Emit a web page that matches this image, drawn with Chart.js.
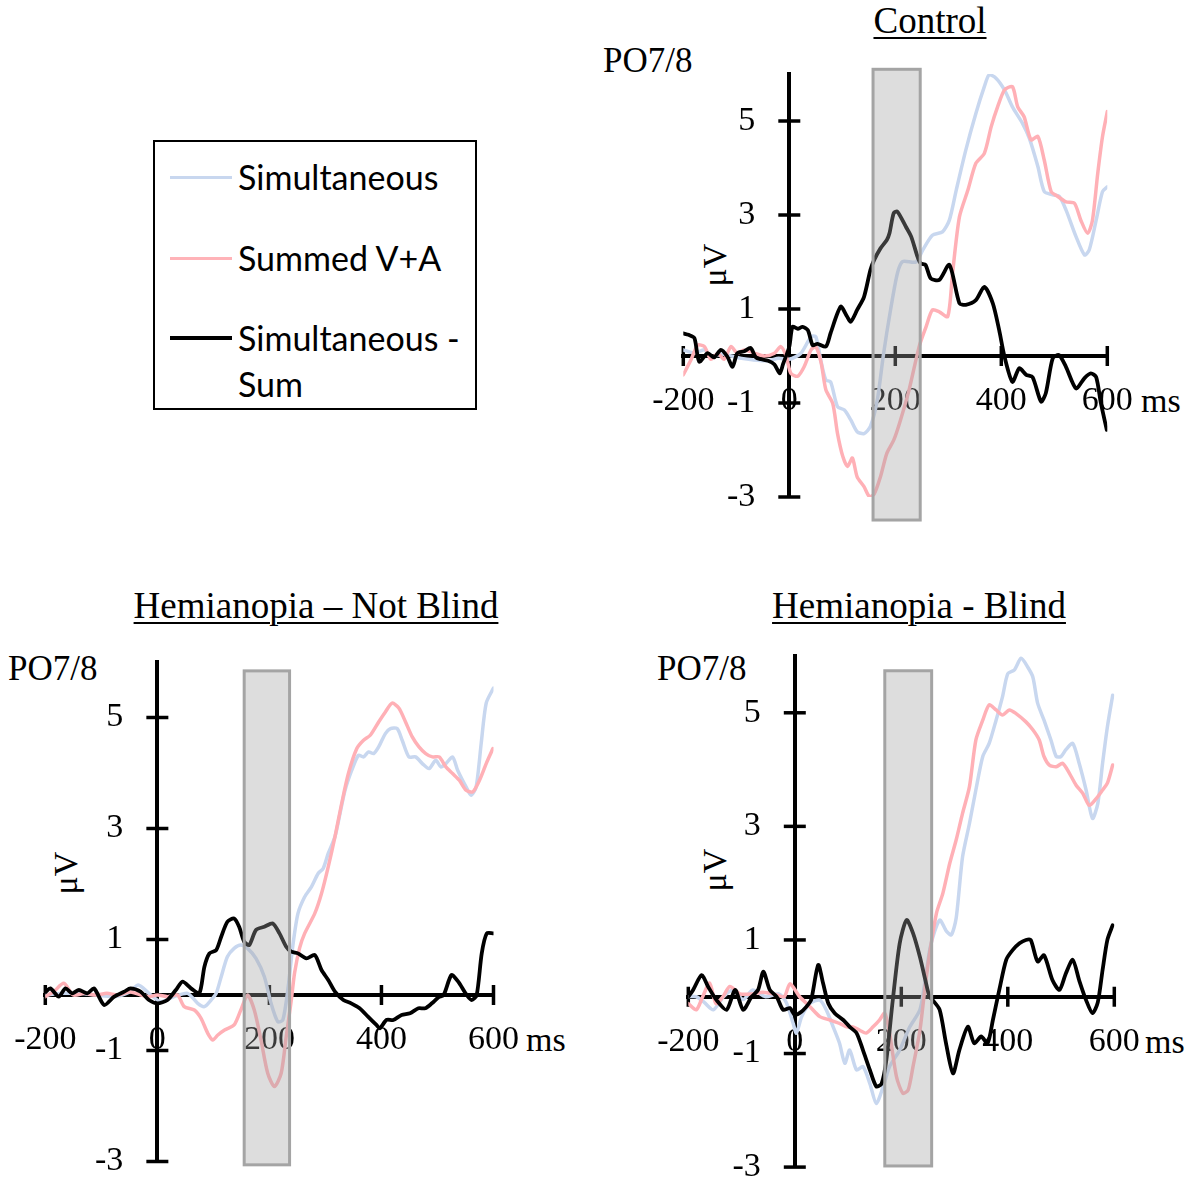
<!DOCTYPE html>
<html><head><meta charset="utf-8">
<script src="https://cdn.jsdelivr.net/npm/chart.js@4/dist/chart.umd.min.js"></script>
<style>
html,body{margin:0;padding:0;background:#fff;}
body{width:1199px;height:1181px;position:relative;overflow:hidden;font-family:'Liberation Serif','Times New Roman',serif;color:#000;}
canvas{position:absolute;}
.t{position:absolute;white-space:nowrap;line-height:1;}
.title{font-size:37px;text-decoration:underline;text-decoration-thickness:2px;text-underline-offset:4px;transform:translateX(-50%);}
.po{font-size:35px;}
.uv{font-size:34px;transform:translate(-50%,-50%) rotate(-90deg);}
.ms{font-size:34px;}
#legend{position:absolute;left:153px;top:140px;width:320px;height:266px;border:2px solid #000;font-family:Lato,sans-serif;}
#legend .sw{position:absolute;left:15px;width:62px;}
#legend .lt{position:absolute;left:83px;font-size:34px;line-height:46px;height:46px;white-space:nowrap;color:#000;}
</style></head>
<body>
<div class="t title" style="left:930px;top:2px;">Control</div>
<div class="t title" style="left:316px;top:587px;">Hemianopia – Not Blind</div>
<div class="t title" style="left:919px;top:587px;">Hemianopia - Blind</div>
<div class="t po" style="left:603px;top:43px;">PO7/8</div>
<div class="t po" style="left:8px;top:651px;">PO7/8</div>
<div class="t po" style="left:657px;top:651px;">PO7/8</div>
<div class="t uv" style="left:715px;top:265px;">μV</div>
<div class="t uv" style="left:66px;top:873px;">μV</div>
<div class="t uv" style="left:715px;top:870px;">μV</div>
<div class="t ms" style="left:1141px;top:384px;">ms</div>
<div class="t ms" style="left:526px;top:1023px;">ms</div>
<div class="t ms" style="left:1145px;top:1025px;">ms</div>

<div id="legend">
  <div class="sw" style="top:33.5px;height:3.5px;background:#c8d7ef;"></div>
  <div class="lt" style="top:12px;">Simultaneous</div>
  <div class="sw" style="top:114.5px;height:3.5px;background:#ffb3b8;"></div>
  <div class="lt" style="top:93px;">Summed V+A</div>
  <div class="sw" style="top:193.5px;height:4px;background:#000;"></div>
  <div class="lt" style="top:173px;">Simultaneous -</div>
  <div class="lt" style="top:219px;">Sum</div>
</div>

<canvas id="cCtrl"></canvas>
<canvas id="cNB"></canvas>
<canvas id="cBL"></canvas>

<script>
// ---------- axis ticks ----------
const xTicks = [-200, 0, 200, 400, 600];
const yTicks = [-3, -1, 1, 3, 5];

// ---------- Control ----------
const ctrlDiffT = [-200,-190,-179,-170,-154,-142,-129,-117,-107,-98,-85,-73,-63,-53,-40,-28,-18,-12,0,6,16,25,35,44,53,69,78,97,109,116,128,141,153,160,172,184,189,197,204,220,230,242,248,257,267,283,302,321,333,352,368,384,396,406,421,434,447,459,475,484,497,509,522,541,557,569,579,588,599];
const ctrlDiffV = [0.48,0.45,0.38,-0.12,0.06,-0.03,0.13,-0.01,-0.23,0.06,0.10,0.17,-0.03,-0.07,-0.10,-0.18,-0.37,-0.18,0.20,0.62,0.58,0.62,0.55,0.23,0.26,0.20,0.49,1.05,0.84,0.73,0.98,1.26,1.83,2.04,2.29,2.47,2.61,3.04,3.07,2.75,2.54,2.11,1.97,1.94,1.65,1.62,1.94,1.12,1.09,1.19,1.47,1.12,0.55,-0.01,-0.55,-0.26,-0.40,-0.45,-0.97,-0.79,-0.05,0.02,-0.23,-0.69,-0.47,-0.37,-0.45,-1.01,-1.57];
const ctrlSimT = [-200,-179,-160,-148,-129,-110,-90,-70,-40,-20,0,22,41,50,60,69,78,91,104,116,128,141,153,166,178,191,204,214,239,252,270,289,302,315,333,352,368,377,390,406,421,440,453,469,481,497,509,522,541,557,566,579,591,600];
const ctrlSimV = [0.13,0.06,0.13,-0.03,0.04,0.00,-0.05,-0.08,-0.10,-0.05,-0.07,0.06,0.41,0.41,-0.12,-0.51,-0.55,-1.08,-1.15,-1.36,-1.61,-1.65,-1.50,-0.94,0.06,0.98,1.76,2.01,2.00,2.26,2.57,2.64,2.89,3.53,4.38,5.16,5.73,5.98,5.91,5.66,5.30,4.95,4.63,4.03,3.50,3.43,3.40,3.11,2.54,2.15,2.26,2.89,3.50,3.60];
const ctrlSumT = [-200,-185,-173,-160,-148,-135,-123,-110,-98,-85,-66,-47,-28,-16,-6,3,16,28,41,50,60,69,82,91,101,110,119,128,141,151,160,172,184,197,208,226,245,258,270,283,299,308,321,337,352,368,381,393,406,421,431,443,456,469,481,494,506,522,538,550,563,572,582,591,600];
const ctrlSumV = [-0.40,-0.07,0.23,0.20,-0.07,0.06,-0.07,0.20,0.06,0.13,0.06,0.00,0.06,0.20,0.00,-0.37,-0.43,-0.23,0.13,0.20,-0.14,-0.72,-1.01,-1.65,-2.14,-2.35,-2.17,-2.57,-2.78,-2.99,-2.94,-2.57,-2.07,-1.79,-1.43,-0.72,0.20,0.62,0.98,0.94,0.84,1.76,2.96,3.53,4.10,4.31,4.88,5.30,5.66,5.73,5.30,5.09,4.60,4.67,4.17,3.50,3.40,3.28,3.25,2.89,2.61,2.89,3.89,4.67,5.20];
const ctrlShade = [158, 247, 6.1, -3.49];   // from ms, to ms, top µV, bottom µV

// ---------- Hemianopia – Not Blind ----------
const nbDiffT = [-200,-191,-176,-164,-152,-140,-125,-113,-95,-77,-59,-48,-30,-15,0,18,33,45,60,75,84,93,105,114,125,137,146,155,164,176,191,206,218,230,239,251,266,281,293,305,317,332,346,361,376,391,397,409,421,436,451,466,478,490,502,511,525,537,552,561,570,579,588,600];
const nbDiffV = [0.05,0.12,-0.03,0.12,0.03,0.09,0.03,0.12,-0.18,-0.03,0.06,0.12,0.06,-0.09,-0.15,-0.09,0.09,0.24,0.12,0.03,0.51,0.75,0.81,1.05,1.32,1.38,1.23,0.96,0.90,1.17,1.23,1.29,1.11,0.87,0.78,0.75,0.66,0.72,0.45,0.27,0.06,-0.09,-0.15,-0.24,-0.39,-0.54,-0.60,-0.45,-0.45,-0.36,-0.33,-0.24,-0.24,-0.15,-0.04,0.00,0.36,0.24,0.00,-0.09,0.00,0.75,1.11,1.11];
const nbSimT = [-200,-170,-140,-110,-77,-50,-34,-15,6,30,54,72,84,96,105,114,125,137,149,161,176,191,203,215,224,233,242,251,263,275,287,296,305,317,326,335,347,359,368,377,386,395,407,416,428,437,449,461,473,485,497,506,515,527,536,551,560,569,578,587,600];
const nbSimV = [0.00,0.03,0.03,0.00,-0.03,0.05,0.18,0.03,-0.12,-0.03,0.03,-0.15,-0.21,-0.09,0.03,0.33,0.69,0.84,0.90,0.84,0.66,0.33,-0.15,-0.48,-0.45,0.10,0.90,1.47,1.77,1.95,2.19,2.28,2.55,2.85,3.27,3.69,4.05,4.32,4.29,4.38,4.35,4.47,4.71,4.80,4.80,4.59,4.29,4.29,4.17,4.08,4.23,4.11,4.17,4.29,4.05,3.75,3.60,3.75,4.53,5.26,5.53];
const nbSumT = [-200,-185,-167,-150,-130,-110,-90,-70,-50,-30,-15,0,18,36,48,66,78,90,99,108,120,137,149,161,173,185,197,209,221,230,239,245,254,263,281,293,305,317,329,341,356,368,380,395,407,419,431,443,455,467,479,491,503,515,527,539,551,563,575,587,599];
const nbSumV = [-0.03,0.06,0.21,0.00,0.03,0.00,0.03,0.00,0.06,0.00,-0.03,0.00,-0.03,0.00,-0.21,-0.27,-0.42,-0.69,-0.81,-0.72,-0.63,-0.54,-0.27,0.00,-0.27,-0.81,-1.41,-1.65,-1.41,-0.75,-0.10,0.40,0.85,1.11,1.47,1.83,2.31,2.85,3.45,3.99,4.44,4.59,4.68,4.92,5.10,5.26,5.17,4.92,4.65,4.47,4.35,4.29,4.29,4.11,3.99,3.87,3.69,3.66,3.87,4.17,4.44];
const nbShade = [155, 236, 5.84, -3.06];

// ---------- Hemianopia - Blind ----------
const blDiffT = [-200,-191,-175,-163,-147,-128,-112,-97,-81,-69,-59,-47,-34,-22,-9,0,13,25,31,44,53,63,75,91,103,116,128,141,153,163,172,184,197,210,222,235,245,253,259,272,284,297,309,325,337,350,362,372,384,397,409,422,434,443,456,468,484,497,509,522,534,547,559,569,578,587,597];
const blDiffV = [0.00,0.12,0.38,0.18,-0.06,-0.23,0.12,-0.23,0.00,0.12,0.44,0.12,0.00,-0.23,-0.20,-0.32,-0.26,-0.14,-0.05,0.56,0.24,-0.12,-0.29,-0.41,-0.53,-0.64,-0.94,-1.29,-1.58,-1.53,-1.11,-0.06,0.94,1.35,1.12,0.70,0.30,0.00,-0.06,-0.23,-0.82,-1.35,-0.94,-0.53,-0.82,-0.70,-0.82,-0.41,0.12,0.65,0.82,0.94,1.00,1.00,0.62,0.73,0.29,0.12,0.41,0.65,0.29,-0.06,-0.29,-0.10,0.47,1.00,1.26];
const blSimT = [-200,-185,-170,-153,-134,-116,-97,-79,-55,-30,-16,-3,3,13,28,47,59,72,84,94,103,116,128,141,153,166,178,197,216,235,245,255,272,285,294,303,315,328,340,353,365,378,390,400,412,425,437,447,456,468,481,491,500,509,522,534,547,559,569,578,587,597];
const blSimV = [0.00,0.00,-0.10,-0.23,0.00,0.12,-0.05,0.12,0.00,0.05,-0.10,-0.47,-0.64,-0.35,-0.12,-0.06,-0.23,-0.53,-0.82,-1.17,-0.94,-1.29,-1.23,-1.53,-1.88,-1.58,-1.23,-0.94,-0.53,-0.23,0.30,0.90,1.35,1.15,1.09,1.38,2.46,3.05,3.64,4.23,4.46,4.87,5.28,5.69,5.75,5.96,5.81,5.63,5.17,4.87,4.52,4.23,4.23,4.35,4.46,4.11,3.64,3.14,3.40,4.11,4.75,5.31];
const blSumT = [-200,-185,-173,-160,-148,-135,-122,-103,-80,-60,-40,-20,-9,9,28,47,66,84,97,109,122,134,147,159,169,178,191,203,213,222,235,245,253,266,278,291,303,315,328,340,353,365,378,390,403,415,434,447,459,468,478,491,503,516,528,541,553,566,578,587,597];
const blSumV = [-0.12,-0.23,0.00,0.24,-0.12,0.00,0.18,0.05,0.05,0.08,0.05,0.00,0.23,0.00,-0.17,-0.35,-0.41,-0.47,-0.53,-0.53,-0.59,-0.64,-0.53,-0.41,-0.29,-0.64,-1.41,-1.70,-1.64,-1.23,-0.59,0.20,0.75,1.47,1.82,2.35,2.76,3.23,3.70,4.52,4.87,5.14,5.05,4.96,5.05,4.99,4.84,4.70,4.52,4.23,4.08,4.05,4.11,3.93,3.73,3.58,3.37,3.49,3.64,3.76,4.08];
const blShade = [169, 257, 5.74, -2.98];

// ---------- plugins ----------
const crossTicks = {
  id: 'crossTicks',
  beforeDatasetsDraw(chart) {
    const {ctx, scales: {x, y}} = chart;
    const x0 = x.getPixelForValue(0), y0 = y.getPixelForValue(0);
    ctx.save();
    ctx.strokeStyle = '#000';
    ctx.lineWidth = 3.5;
    y.ticks.forEach(t => {
      const py = y.getPixelForValue(t.value);
      ctx.beginPath(); ctx.moveTo(x0 - 11, py); ctx.lineTo(x0 + 11, py); ctx.stroke();
    });
    x.ticks.forEach(t => {
      if (t.value === 0) return;
      const px = x.getPixelForValue(t.value);
      ctx.beginPath(); ctx.moveTo(px, y0 - 10); ctx.lineTo(px, y0 + 10); ctx.stroke();
    });
    ctx.restore();
  }
};
const shadePlugin = {
  id: 'shade',
  afterDatasetsDraw(chart, args, o) {
    const {ctx, scales: {x, y}} = chart;
    const s = o.range;
    const x1 = x.getPixelForValue(s[0]), x2 = x.getPixelForValue(s[1]);
    const y1 = y.getPixelForValue(s[2]), y2 = y.getPixelForValue(s[3]);
    ctx.save();
    ctx.fillStyle = 'rgba(160,160,160,0.36)';
    ctx.fillRect(x1, y1, x2 - x1, y2 - y1);
    ctx.strokeStyle = '#a4a4a4';
    ctx.lineWidth = 3;
    ctx.strokeRect(x1, y1, x2 - x1, y2 - y1);
    ctx.restore();
  }
};

const BLUE = '#c8d7ef', RED = '#ffb0b6', BLACK = '#000';
function pts(t, v) { return t.map((tt, i) => ({x: tt, y: v[i]})); }
function ds(label, t, v, color, w) {
  return {label, data: pts(t, v), borderColor: color, borderWidth: w, pointRadius: 0, tension: 0.25, fill: false,
          borderCapStyle: 'round', borderJoinStyle: 'round'};
}
const tickFont = {family: "'Liberation Serif', 'Times New Roman', serif", size: 34};

// place a canvas so that its plot area lands on the given page rectangle
function makePanel(id, area, diff, sum, sim, shade) {
  const M = 70;
  const L = Math.floor(area.l) - M, T = Math.floor(area.t) - M;
  const W = Math.ceil(area.r) + M - L, H = Math.ceil(area.b) + M - T;
  const cv = document.getElementById(id);
  cv.width = W; cv.height = H;
  cv.style.left = L + 'px'; cv.style.top = T + 'px';
  cv.style.width = W + 'px'; cv.style.height = H + 'px';
  const pad = {left: area.l - L, top: area.t - T, right: L + W - area.r, bottom: T + H - area.b};
  return new Chart(cv, {
    type: 'line',
    data: {datasets: [
      ds('Simultaneous - Sum', diff[0], diff[1], BLACK, 3.8),
      ds('Summed V+A', sum[0], sum[1], RED, 3.5),
      ds('Simultaneous', sim[0], sim[1], BLUE, 3.5)
    ]},
    options: {
      responsive: false, animation: false, devicePixelRatio: 1, events: [],
      layout: {padding: pad},
      plugins: {legend: {display: false}, tooltip: {enabled: false}, title: {display: false}, shade: {range: shade}},
      scales: {
        x: {
          type: 'linear', min: -200, max: 600, position: {y: 0},
          afterBuildTicks: s => { s.ticks = xTicks.map(v => ({value: v})); },
          grid: {display: false, drawTicks: false},
          border: {display: true, color: '#000', width: 4},
          ticks: {padding: 25, color: '#000', font: tickFont, maxRotation: 0, autoSkip: false}
        },
        y: {
          type: 'linear', min: -3, max: 6, position: {x: 0},
          afterBuildTicks: s => { s.ticks = yTicks.map(v => ({value: v})); },
          grid: {display: false, drawTicks: false},
          border: {display: true, color: '#000', width: 4},
          ticks: {color: '#000', font: tickFont, autoSkip: false, callback: v => v + '\u2003'}
        }
      }
    },
    plugins: [crossTicks, shadePlugin]
  });
}

makePanel('cCtrl', {l: 683.3, t: 74, r: 1107.3, b: 497},
  [ctrlDiffT, ctrlDiffV], [ctrlSumT, ctrlSumV], [ctrlSimT, ctrlSimV], ctrlShade);
makePanel('cNB', {l: 45.3, t: 662, r: 493.5, b: 1161.5},
  [nbDiffT, nbDiffV], [nbSumT, nbSumV], [nbSimT, nbSimV], nbShade);
makePanel('cBL', {l: 688.3, t: 656, r: 1114.3, b: 1167.1},
  [blDiffT, blDiffV], [blSumT, blSumV], [blSimT, blSimV], blShade);
</script>
</body></html>
